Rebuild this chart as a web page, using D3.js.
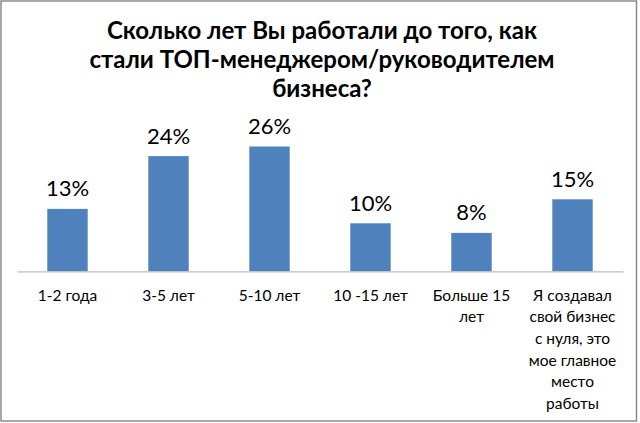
<!DOCTYPE html>
<html lang="ru">
<head>
  <meta charset="UTF-8">
  <title>Сколько лет Вы работали</title>
  <script src="https://d3js.org/d3.v7.min.js"></script>
  <style>
    body { margin: 0; background: #fff; }
    text { font-family: Lato, "Open Sans", sans-serif; fill: #000; }
  </style>
</head>
<body>
  <div id="viz"></div>

  <script>
    const titleLines = [
      'Сколько лет Вы работали до того, как',
      'стали ТОП-менеджером/руководителем',
      'бизнеса?'
    ];
    const categories = ['1-2 года', '3-5 лет', '5-10 лет', '10 -15 лет', 'Больше 15 лет', 'Я создавал свой бизнес с нуля, это мое главное место работы'];
    const tickLabels = [
      ['1-2 года'],
      ['3-5 лет'],
      ['5-10 лет'],
      ['10 -15 лет'],
      ['Больше 15', 'лет'],
      ['Я создавал', 'свой бизнес', 'с нуля, это', 'мое главное', 'место', 'работы']
    ];
    const values = [13, 24, 26, 10, 8, 15];

    const width = 640, height = 423;

    const svg = d3.select('#viz')
      .append('svg')
        .attr('width', width)
        .attr('height', height);

    // chart border
    svg.append('rect')
      .attr('x', 1).attr('y', 1)
      .attr('width', 635.5).attr('height', 420)
      .attr('fill', '#fff')
      .attr('stroke', '#8a8a8a')
      .attr('stroke-width', 1.5);

    // title
    svg.append('g')
      .selectAll('text')
      .data(titleLines)
      .join('text')
        .attr('x', 322)
        .attr('y', (d, i) => 39 + i * 29)
        .attr('text-anchor', 'middle')
        .style('font-size', '24px')
        .style('font-weight', 'bold')
        .text(d => d);

    const x = d3.scaleBand()
      .domain(categories)
      .range([17, 623])
      .paddingInner(0.6)
      .paddingOuter(0.3);

    const y = d3.scaleLinear()
      .domain([0, 30])
      .range([271.3, 127.3]);

    // bars
    svg.append('g')
      .selectAll('rect')
      .data(values)
      .join('rect')
        .attr('x', (d, i) => x(categories[i]))
        .attr('y', d => y(d))
        .attr('width', x.bandwidth())
        .attr('height', d => y(0) - y(d))
        .attr('fill', '#4f81bd');

    // value labels
    svg.append('g')
      .selectAll('text')
      .data(values)
      .join('text')
        .attr('x', (d, i) => x(categories[i]) + x.bandwidth() / 2)
        .attr('y', d => y(d) - 12.5)
        .attr('text-anchor', 'middle')
        .style('font-size', '22px')
        .text(d => d + '%');

    // category axis
    const axis = svg.append('g')
      .attr('transform', `translate(0,${y(0)})`)
      .call(d3.axisBottom(x).tickSize(0).tickFormat(''));
    axis.select('.domain').attr('stroke', '#bcbcbc').attr('stroke-width', 1.2);

    axis.selectAll('.tick').each(function (d, i) {
      const t = d3.select(this).select('text')
        .attr('y', 0)
        .attr('dy', 0)
        .style('font-size', '15.5px')
        .attr('fill', '#000');
      t.selectAll('tspan')
        .data(tickLabels[i])
        .join('tspan')
          .attr('x', 0)
          .attr('y', (s, j) => 29.5 + j * 21.6)
          .text(s => s);
    });
  </script>
</body>
</html>
